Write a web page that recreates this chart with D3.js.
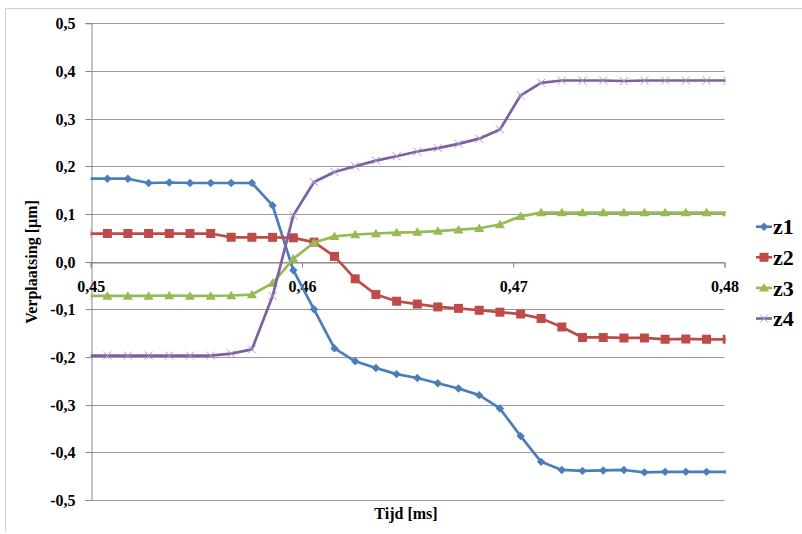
<!DOCTYPE html>
<html><head><meta charset="utf-8">
<script src="https://cdn.jsdelivr.net/npm/d3@7"></script>
<style>html,body{margin:0;padding:0;background:#fff;}svg{display:block;} svg text{font-family:"Liberation Serif","Times New Roman",serif !important;font-weight:bold;}</style>
</head><body>
<svg id="c" width="802" height="534"></svg>
<script>
// time [ms] of each sample (first and last fall just outside the axis range and are clipped)
const tijd = [0.44981,0.45079,0.45176,0.45274,0.45372,0.45470,0.45568,0.45665,0.45763,0.45861,0.45959,0.46057,0.46154,0.46252,0.46350,0.46448,0.46546,0.46643,0.46741,0.46839,0.46937,0.47035,0.47132,0.47230,0.47328,0.47426,0.47524,0.47621,0.47719,0.47817,0.47915,0.48013];
const z1 = [0.174,0.174,0.174,0.165,0.166,0.165,0.165,0.165,0.165,0.118,-0.018,-0.100,-0.182,-0.209,-0.223,-0.236,-0.244,-0.255,-0.266,-0.280,-0.308,-0.366,-0.420,-0.437,-0.439,-0.438,-0.437,-0.442,-0.441,-0.441,-0.441,-0.441];
const z2 = [0.059,0.059,0.059,0.059,0.059,0.059,0.059,0.051,0.051,0.051,0.050,0.041,0.011,-0.036,-0.069,-0.083,-0.089,-0.095,-0.098,-0.102,-0.106,-0.110,-0.119,-0.137,-0.159,-0.159,-0.160,-0.160,-0.163,-0.162,-0.163,-0.163];
const z3 = [-0.072,-0.072,-0.072,-0.072,-0.071,-0.072,-0.072,-0.071,-0.069,-0.045,0.006,0.040,0.053,0.057,0.059,0.061,0.062,0.064,0.067,0.070,0.078,0.095,0.103,0.103,0.103,0.103,0.103,0.103,0.103,0.103,0.103,0.103];
const z4 = [-0.197,-0.197,-0.197,-0.197,-0.197,-0.197,-0.197,-0.193,-0.184,-0.072,0.097,0.167,0.188,0.200,0.212,0.221,0.231,0.238,0.247,0.258,0.277,0.349,0.375,0.380,0.380,0.380,0.379,0.380,0.380,0.380,0.380,0.380];
const seriesNames = ["z1","z2","z3","z4"];
const yTicks = [0.5,0.4,0.3,0.2,0.1,0,-0.1,-0.2,-0.3,-0.4,-0.5];
const xTicks = [0.45,0.46,0.47,0.48];
const yTitle = "Verplaatsing [µm]";
const xTitle = "Tijd [ms]";

const colors = ["#4A7EBB","#BE4B48","#98B954","#7D60A0"];
const markerTypes = ["diamond","square","triangle","cross"];
const seriesVals = [z1,z2,z3,z4];

const svg = d3.select("#c");
const L = 90.7, R = 724.5, T = 23.3, B = 500;
const x = d3.scaleLinear().domain([0.45,0.48]).range([L,R]);
const y = d3.scaleLinear().domain([-0.5,0.5]).range([B,T]);
const fmt = v => d3.format(".1f")(v).replace(".",",").replace("−","-");
const fmtx = v => d3.format(".2f")(v).replace(".",",");

// outer frame (left/top)
svg.append("path").attr("d","M5.5,531 V8.5 H802").attr("fill","none").attr("stroke","#d0d0d0");

// gridlines
svg.append("g").selectAll("line").data(yTicks).join("line")
  .attr("x1",L).attr("x2",R).attr("y1",d=>Math.round(y(d))+0.5).attr("y2",d=>Math.round(y(d))+0.5)
  .attr("stroke","#9a9a9a").attr("stroke-width",1);

// y axis
const yAxis = svg.append("g").attr("transform",`translate(${Math.round(L)+0.5},0)`)
  .call(d3.axisLeft(y).tickValues(yTicks).tickFormat(fmt).tickSize(6).tickPadding(10));
yAxis.attr("font-family",null);
yAxis.select(".domain").attr("stroke","#868686");
yAxis.selectAll(".tick line").attr("stroke","#868686");
yAxis.selectAll(".tick").attr("transform",d=>`translate(0,${Math.round(y(d))+0.5})`);
yAxis.selectAll("text").attr("font-size",16).attr("fill","#000").attr("dy","0.34em");

// x axis at y=0
const xAxis = svg.append("g").attr("transform",`translate(0,${Math.round(y(0))+0.5})`)
  .call(d3.axisBottom(x).tickValues(xTicks).tickFormat(fmtx).tickSize(5).tickPadding(13));
xAxis.attr("font-family",null);
xAxis.select(".domain").attr("stroke","#868686");
xAxis.selectAll(".tick line").attr("stroke","#868686");
xAxis.selectAll("text").attr("font-size",16).attr("fill","#000");

// clip
svg.append("clipPath").attr("id","clip").append("rect").attr("x",L).attr("y",0).attr("width",R-L+1).attr("height",534);

function markerPath(type, s){
  if(type==="diamond") return `M0,${-s}L${s},0L0,${s}L${-s},0Z`;
  if(type==="square") return `M${-s},${-s}H${s}V${s}H${-s}Z`;
  if(type==="triangle") return `M0,${-s*1.05}L${s*1.1},${s*0.8}L${-s*1.1},${s*0.8}Z`;
  return `M${-s},${-s}L${s},${s}M${-s},${s}L${s},${-s}`;
}
const msize = [4.2,4.5,4.6,4];

const plot = svg.append("g").attr("clip-path","url(#clip)");
const line = d3.line().x(d=>x(d[0])).y(d=>y(d[1]));
seriesVals.forEach((vals,i)=>{
  const pts = tijd.map((t,j)=>[t,vals[j]]);
  const g = plot.append("g");
  g.append("path").datum(pts).attr("d",line).attr("fill","none").attr("stroke",colors[i]).attr("stroke-width",2.7).attr("stroke-linejoin","round");
  g.selectAll("path.m").data(pts).join("path").attr("class","m")
    .attr("transform",d=>`translate(${x(d[0])},${y(d[1])})`)
    .attr("d",markerPath(markerTypes[i],msize[i]))
    .attr("fill",markerTypes[i]==="cross"?"none":colors[i])
    .attr("stroke",markerTypes[i]==="cross"?"#a898c8":"none")
    .attr("stroke-width",1);
});

// axis titles
svg.append("text").attr("x",406).attr("y",519).attr("text-anchor","middle")
  .attr("font-size",16).text(xTitle);
svg.append("text").attr("transform","translate(37,262) rotate(-90)").attr("text-anchor","middle")
  .attr("font-size",16).text(yTitle);

// legend
const lg = svg.append("g");
seriesNames.forEach((n,i)=>{
  const cy = 226.7 + i*30.6;
  lg.append("line").attr("x1",756).attr("x2",772).attr("y1",cy).attr("y2",cy).attr("stroke",colors[i]).attr("stroke-width",2.6);
  lg.append("path").attr("transform",`translate(764,${cy})`).attr("d",markerPath(markerTypes[i],msize[i]))
    .attr("fill",markerTypes[i]==="cross"?"none":colors[i])
    .attr("stroke",markerTypes[i]==="cross"?"#a898c8":"none").attr("stroke-width",1);
  lg.append("text").attr("x",773).attr("y",cy).attr("dy","0.35em")
    .attr("font-size",22).text(n);
});
</script>
</body></html>
